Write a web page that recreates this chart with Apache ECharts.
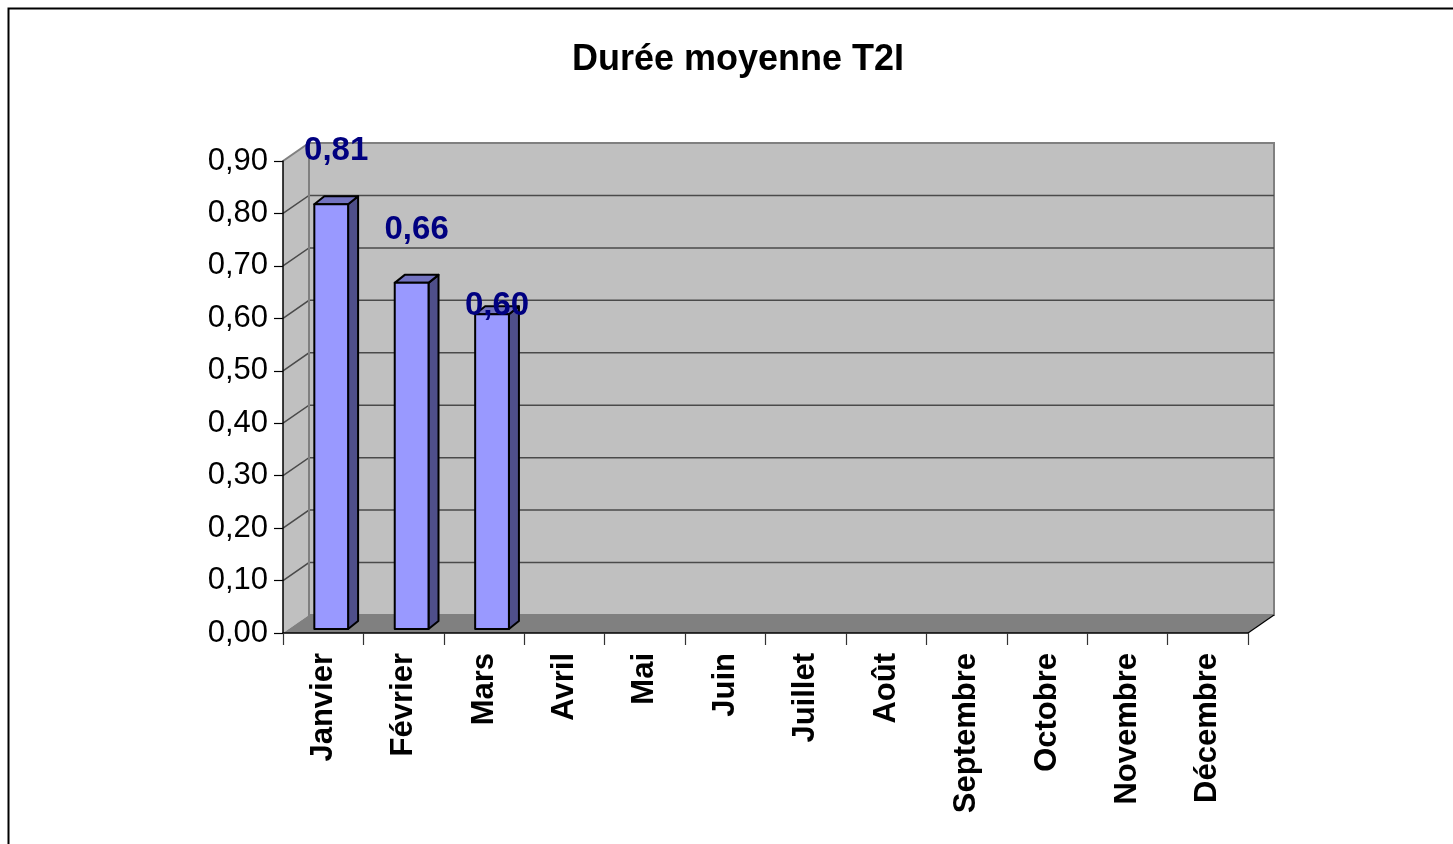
<!DOCTYPE html>
<html>
<head>
<meta charset="utf-8">
<script src="https://cdn.jsdelivr.net/npm/echarts@6/dist/echarts.min.js"></script>
<style>
html,body{margin:0;padding:0;background:#fff;}
#chart{width:1453px;height:844px;}
</style>
</head>
<body>
<div id="chart"></div>
<script>
const title = 'Durée moyenne T2I';
const categories = ['Janvier','Février','Mars','Avril','Mai','Juin','Juillet','Août','Septembre','Octobre','Novembre','Décembre'];
const values = [0.81, 0.66, 0.60];
const yTicks = [0, 0.1, 0.2, 0.3, 0.4, 0.5, 0.6, 0.7, 0.8, 0.9];

const FONT = '"Liberation Sans", Arial, sans-serif';
const fmt = v => v.toFixed(2).replace('.', ',');
const DX = 26, DY = -18;   // wall depth
const BDX = 10, BDY = -8;  // bar depth
const BOY = -4;            // bar set-back from front plane

const chart = echarts.init(document.getElementById('chart'));

function renderWalls(params, api) {
  const cs = params.coordSys;
  const L = cs.x, R = cs.x + cs.width, T = cs.y, B = cs.y + cs.height;
  const children = [];
  children.push({type:'polygon', shape:{points:[[L,T],[L+DX,T+DY],[L+DX,B+DY],[L,B]]},
    style:{fill:'#C0C0C0', stroke:null}});
  children.push({type:'rect', shape:{x:L+DX, y:T+DY, width:R-L, height:B-T},
    style:{fill:'#C0C0C0', stroke:'#808080', lineWidth:2}});
  children.push({type:'polygon', shape:{points:[[L,B],[L+DX,B+DY],[R+DX,B+DY],[R,B]]},
    style:{fill:'#808080', stroke:null}});
  yTicks.forEach(t => {
    if (t === 0) return;
    const y = api.coord([0, t])[1];
    const isTop = t === yTicks[yTicks.length - 1];
    children.push({type:'polyline', shape:{points:[[L,y],[L+DX,y+DY],[R+DX,y+DY]]},
      style:{stroke: isTop ? '#808080' : '#4a4a4a', lineWidth: isTop ? 2 : 1.5, fill:null}});
  });
  children.push({type:'line', shape:{x1:L+DX,y1:T+DY,x2:L+DX,y2:B+DY},
    style:{stroke:'#808080', lineWidth:2}});
  children.push({type:'line', shape:{x1:R,y1:B,x2:R+DX,y2:B+DY},
    style:{stroke:'#000', lineWidth:1.2}});
  return {type:'group', children};
}

function renderBar(params, api) {
  const i = api.value(0), v = api.value(1);
  const base = api.coord([i, 0]);
  const top = api.coord([i, v]);
  const cw = api.size([1, 0])[0];
  const w = cw * 0.42;
  const cx = base[0] + 8;
  const x0 = cx - w/2, x1 = cx + w/2;
  const yb = base[1] + BOY, yt = top[1] + BOY;
  const line = {stroke:'#000', lineWidth:2, lineJoin:'round'};
  const lift = params.dataIndex === 2 ? 8 : 53;
  return {type:'group', children:[
    {type:'polygon', shape:{points:[[x1,yt],[x1+BDX,yt+BDY],[x1+BDX,yb+BDY],[x1,yb]]},
      style:Object.assign({fill:'#4F4F8A'}, line)},
    {type:'polygon', shape:{points:[[x0,yt],[x0+BDX,yt+BDY],[x1+BDX,yt+BDY],[x1,yt]]},
      style:Object.assign({fill:'#7373C0'}, line)},
    {type:'rect', shape:{x:x0, y:yt, width:x1-x0, height:yb-yt},
      style:Object.assign({fill:'#9999FF'}, line)},
    {type:'text', z2:10, style:{text:fmt(v), x:cx+5, y:yt-lift, align:'center', verticalAlign:'middle',
      fontSize:33, fontWeight:'bold', fontFamily:FONT, fill:'#000080'}}
  ]};
}

chart.setOption({
  animation:false,
  backgroundColor:'#fff',
  graphic:[
    {type:'rect', z:-10, silent:true, shape:{x:8.5,y:8.5,width:1600,height:1000},
      style:{fill:'#fff', stroke:'#000', lineWidth:2}},
    {type:'text', x:738, y:60, style:{text:title, align:'center', verticalAlign:'middle',
      fontSize:36, fontWeight:'bold', fontFamily:FONT, fill:'#000'}}
  ],
  grid:{left:283, right:205, top:161, bottom:211, containLabel:false},
  xAxis:{
    type:'category', data:categories, boundaryGap:true,
    axisLine:{show:true, lineStyle:{color:'#000', width:1.5}},
    axisTick:{show:true, length:12, lineStyle:{color:'#333', width:1.2}},
    axisLabel:{rotate:90, margin:20, fontSize:31, fontWeight:'bold', fontFamily:FONT, color:'#000', interval:0},
    splitLine:{show:false}, z:5
  },
  yAxis:{
    type:'value', min:0, max:0.9, interval:0.1,
    axisLine:{show:true, lineStyle:{color:'#000', width:1.5}},
    axisTick:{show:true, length:9, lineStyle:{color:'#000', width:1.2}},
    axisLabel:{margin:15, fontSize:31, fontFamily:FONT, color:'#000', formatter:v => fmt(v)},
    splitLine:{show:false}, z:5
  },
  series:[
    {type:'custom', z:1, silent:true, clip:false, renderItem:renderWalls, data:[[0,0]]},
    {type:'custom', z:3, clip:false, renderItem:renderBar, data:values.map((v,i)=>[i,v])}
  ]
});
</script>
</body>
</html>
